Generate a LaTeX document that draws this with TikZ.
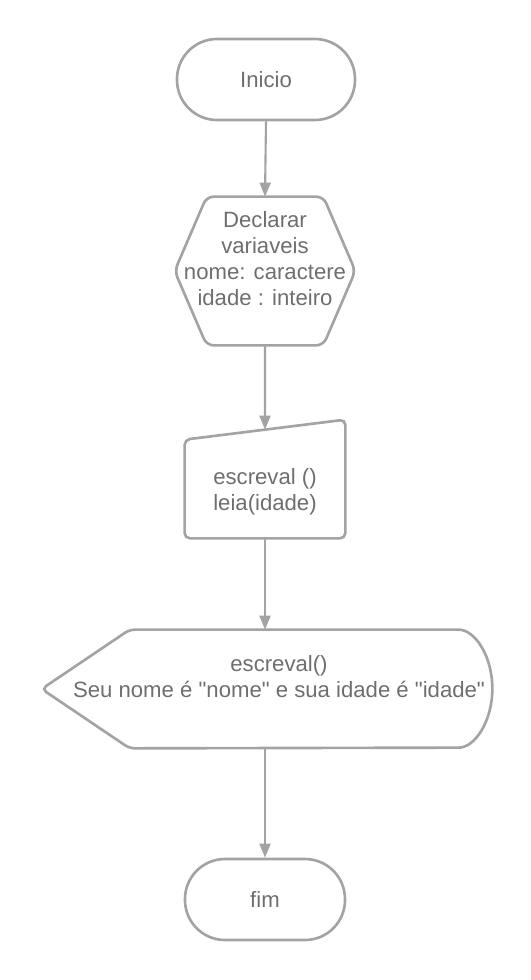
\documentclass[tikz,border=0pt]{standalone}
\usepackage{fontspec}
\setmainfont{Liberation Sans}
\usetikzlibrary{arrows.meta}
\definecolor{linha}{HTML}{A3A3A3}
\definecolor{texto}{HTML}{6E6E6E}

\begin{document}
\begin{tikzpicture}[scale=0.2]
\tikzstyle{every node}+=[inner sep=0pt, font=\fontsize{12.6}{14.8}\selectfont, text=texto]
\tikzstyle{terminal}=[draw=linha, line width=1.5pt, rounded corners=0.8cm, minimum height=1.62cm]
\tikzstyle{forma}=[draw=linha, line width=1.5pt]
\tikzstyle{seta}=[draw=linha, line width=1.2pt, -{Triangle[width=0.22cm,length=0.28cm]}]
\useasboundingbox (0,0) rectangle (53,-98);
% inicio
\node [terminal, minimum width=3.56cm] (inicio) at (26.6,-7.95) {Inicio};
% declaracao (hexagono)
\node [minimum width=3.6cm, minimum height=2.96cm] (decl) at (26.5,-27.1) {};
\draw [forma, rounded corners=4pt] (decl.west) -- ([xshift=3.2cm]decl.north west) -- ([xshift=-3.2cm]decl.north east) -- (decl.east) -- ([xshift=-3.2cm]decl.south east) -- ([xshift=3.2cm]decl.south west) -- cycle;
\node [align=center] (decltxt) at (26.5,-25.85) {Declarar\\variaveis\\nome: caractere\\idade : inteiro};
% entrada manual
\node [minimum width=3.2cm, minimum height=2.36cm] (leia) at (26.5,-47.9) {};
\draw [forma, rounded corners=3pt] ([yshift=-2cm]leia.north west) -- coordinate[pos=0.5] (leiatop) (leia.north east) -- (leia.south east) -- (leia.south west) -- cycle;
\node [align=left] (leiatxt) at (26.5,-49.15) {escreval ()\\leia(idade)};
% exibicao
\node [minimum width=9cm, minimum height=2.36cm] (disp) at (26.7,-68.9) {};
\draw [forma, rounded corners=3pt] (disp.west) -- ([xshift=8.8cm]disp.north west) -- ([xshift=-3.9cm]disp.north east) arc [start angle=90, end angle=-90, x radius=3.9, y radius=5.9] -- ([xshift=8.8cm]disp.south west) -- cycle;
\node [align=center] (disptxt) at (27.9,-67.7) {escreval()\\Seu nome é \textquotedbl nome\textquotedbl{} e sua idade é \textquotedbl idade\textquotedbl};
% fim
\node [terminal, minimum width=3.2cm] (fim) at (26.5,-89.95) {fim};
% setas
\draw [seta] (inicio.south) -- (decl.north);
\draw [seta] (decl.south) -- (leiatop);
\draw [seta] (leia.south) -- (leia.south |- disp.north);
\draw [seta] (disp.south -| fim.north) -- (fim.north);
\end{tikzpicture}
\end{document}
